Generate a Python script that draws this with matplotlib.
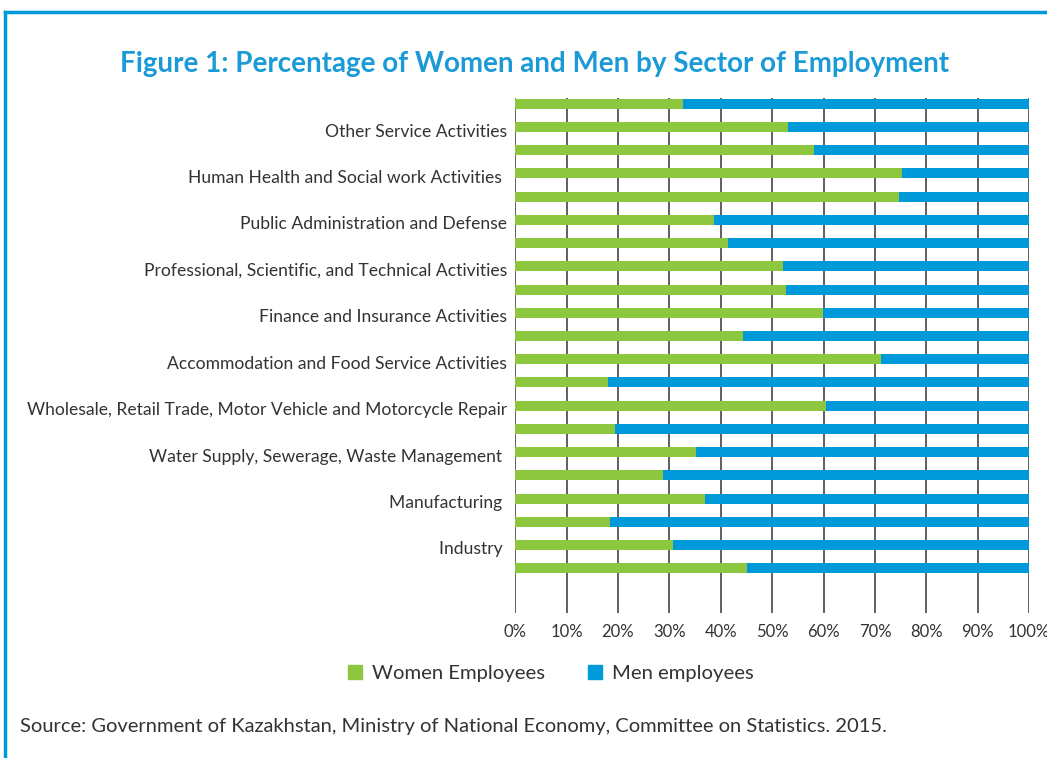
import matplotlib.pyplot as plt
import matplotlib.transforms as mtransforms
from matplotlib.patches import Patch
from matplotlib.lines import Line2D

plt.rcParams['font.family'] = ['Lato', 'DejaVu Sans']

# sector labels, shown on every second bar (top to bottom)
sectors = ['Other Service Activities', 'Human Health and Social work Activities ',
           'Public Administration and Defense', 'Professional, Scientific, and Technical Activities',
           'Finance and Insurance Activities', 'Accommodation and Food Service Activities',
           'Wholesale, Retail Trade, Motor Vehicle and Motorcycle Repair',
           'Water Supply, Sewerage, Waste Management ', 'Manufacturing ', 'Industry ']

# share of women per bar, top to bottom (21 bars)
women = [32.7, 53.1, 58.1, 75.2, 74.7, 38.6, 41.5, 52.2, 52.6, 59.8, 44.4,
         71.1, 18.1, 60.4, 19.4, 35.1, 28.7, 36.9, 18.5, 30.8, 45.2]
men = [100 - w for w in women]

green = '#8dc63f'
blue = '#0099d9'
blue_title = '#1a9ad6'

fig = plt.figure(figsize=(10.47, 7.58), dpi=100)
ax = fig.add_axes([0.492, 0.191, 0.491, 0.680])

n = len(women)
ypos = [n - 1 - i for i in range(n)]
ax.barh(ypos, women, height=0.43, color=green, zorder=3)
ax.barh(ypos, men, left=women, height=0.43, color=blue, zorder=3)

ax.set_xlim(0, 100)
ax.set_ylim(-1.94, n - 1 + 0.26)
ax.set_xticks(range(0, 101, 10))
ax.set_xticklabels([f'{v}%' for v in range(0, 101, 10)], fontsize=12, color='#333333')
ax.set_yticks([n - 1 - (2 * k + 1) for k in range(len(sectors))])
ax.set_yticklabels(sectors, fontsize=12.6, color='#333333')
ax.tick_params(axis='both', length=0, pad=6)
ax.tick_params(axis='x', pad=8)
shift = mtransforms.ScaledTranslation(0, -3 / 100, fig.dpi_scale_trans)
for lbl in ax.get_yticklabels():
    lbl.set_transform(lbl.get_transform() + shift)
ax.xaxis.grid(True, color='#444444', linewidth=1.2, zorder=0)
for s in ax.spines.values():
    s.set_visible(False)

fig.text(0.511, 0.915, 'Figure 1: Percentage of Women and Men by Sector of Employment',
         ha='center', va='center', fontsize=20, fontweight='bold', color=blue_title)

handles = [Patch(color=green, label='Women Employees'), Patch(color=blue, label='Men employees')]
fig.legend(handles=handles, loc='center', bbox_to_anchor=(0.526, 0.112), ncol=2,
           frameon=False, fontsize=14.6, handlelength=0.7, handleheight=0.7,
           columnspacing=2.1, handletextpad=0.5, labelcolor='#333333')

fig.text(0.019, 0.042, 'Source: Government of Kazakhstan, Ministry of National Economy, Committee on Statistics. 2015.',
         ha='left', va='center', fontsize=14.5, color='#333333')

# blue frame around the figure (top and left edges)
fig.add_artist(Line2D([0.005, 1.0], [0.984, 0.984], color=blue, linewidth=2.5, transform=fig.transFigure))
fig.add_artist(Line2D([0.005, 0.005], [0.0, 0.984], color=blue, linewidth=2.5, transform=fig.transFigure))

fig.savefig('out.png', dpi=100)
